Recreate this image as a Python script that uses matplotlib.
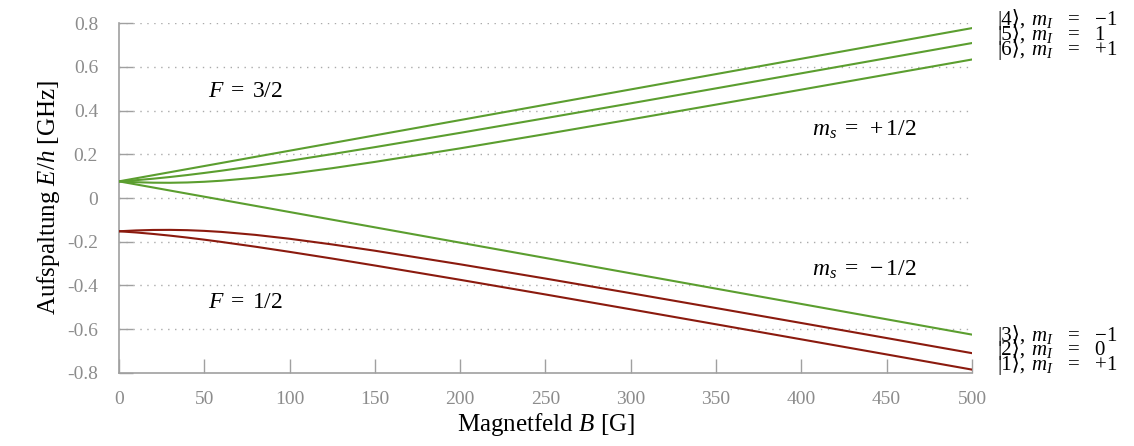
import numpy as np
import matplotlib
matplotlib.use("Agg")
import matplotlib.pyplot as plt

# Magnetfeld in G
B = [0, 10, 20, 30, 40, 50, 60, 80, 100, 125, 150, 200, 250, 300, 350, 400, 450, 500]

# Energien in GHz
# F = 3/2 (gruen)
e4 = [0.0761, 0.0901, 0.1041, 0.1181, 0.1321, 0.1461, 0.1601, 0.1882, 0.2162, 0.2512,
      0.2863, 0.3563, 0.4264, 0.4964, 0.5665, 0.6366, 0.7066, 0.7767]
e5 = [0.0761, 0.0815, 0.0882, 0.0961, 0.1049, 0.1145, 0.1247, 0.1467, 0.1701, 0.2008,
      0.2325, 0.2979, 0.3650, 0.4328, 0.5013, 0.5701, 0.6392, 0.7084]
e6 = [0.0761, 0.0722, 0.0700, 0.0696, 0.0710, 0.0742, 0.0790, 0.0926, 0.1103, 0.1363,
      0.1650, 0.2270, 0.2923, 0.3592, 0.4270, 0.4954, 0.5642, 0.6332]
e3 = [0.0761, 0.0621, 0.0481, 0.0340, 0.0200, 0.0060, -0.0080, -0.0360, -0.0641, -0.0991,
      -0.1341, -0.2042, -0.2742, -0.3443, -0.4144, -0.4844, -0.5545, -0.6245]
# F = 1/2 (rot)
e2 = [-0.1521, -0.1483, -0.1461, -0.1457, -0.1471, -0.1503, -0.1550, -0.1686, -0.1863, -0.2123,
      -0.2410, -0.3031, -0.3683, -0.4352, -0.5031, -0.5715, -0.6403, -0.7093]
e1 = [-0.1521, -0.1575, -0.1643, -0.1721, -0.1809, -0.1905, -0.2008, -0.2227, -0.2462, -0.2768,
      -0.3086, -0.3740, -0.4410, -0.5089, -0.5774, -0.6462, -0.7152, -0.7845]

kets = ["|4\u27e9,", "|5\u27e9,", "|6\u27e9,", "|3\u27e9,", "|2\u27e9,", "|1\u27e9,"]
mI = ["$m_I$   =   \u22121", "$m_I$   =   1", "$m_I$   =   +1",
      "$m_I$   =   \u22121", "$m_I$   =   0", "$m_I$   =   +1"]
label_y = [0.790, 0.722, 0.654, -0.655, -0.720, -0.785]

gruen = "#5b9e2f"
rot = "#8b1a0e"
grau = "#8c8c8c"

plt.rcParams["font.family"] = ["Liberation Serif", "DejaVu Serif", "DejaVu Sans"]
plt.rcParams["mathtext.fontset"] = "custom"
plt.rcParams["mathtext.rm"] = "Liberation Serif"
plt.rcParams["mathtext.it"] = "Liberation Serif:italic"

fig = plt.figure(figsize=(11.34, 4.46), dpi=100)
ax = fig.add_axes([0.1049, 0.1637, 0.7522, 0.7847])

for e in [e4, e5, e6, e3]:
    ax.plot(B, e, color=gruen, lw=1.5, zorder=3)
for e in [e2, e1]:
    ax.plot(B, e, color=rot, lw=1.5, zorder=3)

ax.set_xlim(0, 500)
ax.set_ylim(-0.8, 0.8)
ax.set_xticks(range(0, 501, 50))
yt = [-0.8, -0.6, -0.4, -0.2, 0, 0.2, 0.4, 0.6, 0.8]
ax.set_yticks(yt)
ax.set_yticklabels(["-0.8", "-0.6", "-0.4", "-0.2", "0", "0.2", "0.4", "0.6", "0.8"])

for y in yt[1:]:
    ax.axhline(y, color="#aaaaaa", lw=1, ls=(0, (1, 4)), zorder=1)

for s in ["top", "right"]:
    ax.spines[s].set_visible(False)
for s in ["left", "bottom"]:
    ax.spines[s].set_color("#a0a0a0")
    ax.spines[s].set_linewidth(1.2)

ax.tick_params(axis="both", direction="in", length=10, width=1, color="#a0a0a0",
               labelcolor=grau, labelsize=14)
ax.tick_params(axis="x", pad=13)
ax.tick_params(axis="y", pad=15)

ax.set_xlabel(r"Magnetfeld $B$ [G]", fontsize=18, labelpad=2)
ax.set_ylabel(r"Aufspaltung $E/h$ [GHz]", fontsize=18, labelpad=4)

ax.text(74, 0.486, r"$F\;=\;3/2$", fontsize=17, ha="center", va="center")
ax.text(74, -0.478, r"$F\;=\;1/2$", fontsize=17, ha="center", va="center")
ax.text(437, 0.312, r"$m_s\;=\;+1/2$", fontsize=17, ha="center", va="center")
ax.text(437, -0.328, r"$m_s\;=\;-1/2$", fontsize=17, ha="center", va="center")

# Zustandsbeschriftung rechts: Ket als normaler Text, m_I als Mathtext
for k, m, y in zip(kets, mI, label_y):
    ax.text(515, y, k, fontsize=15, ha="left", va="baseline", clip_on=False)
    ax.annotate(m, xy=(515, y), xytext=(24, 0), textcoords="offset points",
                fontsize=15, ha="left", va="baseline", annotation_clip=False)

fig.savefig("out.png", dpi=100)
